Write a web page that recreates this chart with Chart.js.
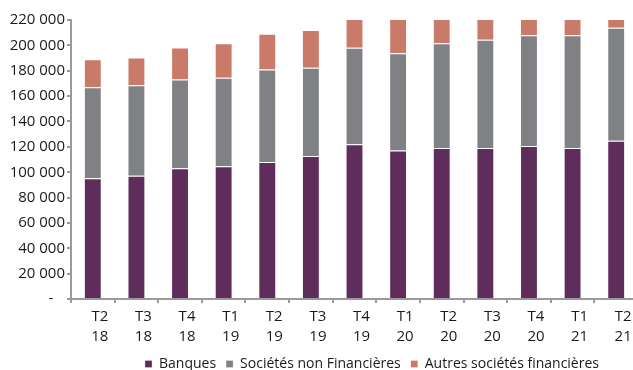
<!DOCTYPE html>
<html>
<head>
<meta charset="utf-8">
<script src="https://cdn.jsdelivr.net/npm/chart.js@4"></script>
<style>
    html, body { margin:0; padding:0; background:#fff; overflow:hidden; }
    #wrap { width:638px; height:370px; position:relative; }
</style>
</head>
<body>
<div id="wrap"><canvas id="graf"></canvas></div>
<script>
    // ---------------- Dados ----------------
    const trimestres = [['T2','18'],['T3','18'],['T4','18'],['T1','19'],['T2','19'],['T3','19'],['T4','19'],
                        ['T1','20'],['T2','20'],['T3','20'],['T4','20'],['T1','21'],['T2','21']];
    const banques = [95300, 97200, 103200, 104800, 108000, 112700, 122000, 117200, 119100, 119100, 120600, 119100, 124900];
    const societesNonFin = [71700, 71400, 69900, 69600, 73000, 69600, 76100, 76500, 82500, 85300, 87300, 88800, 89000];
    const autresFin = [22000, 21900, 25300, 27200, 28200, 29800, 26000, 30000, 22000, 20000, 17000, 18000, 15000];
    const ticksY = [0, 20000, 40000, 60000, 80000, 100000, 120000, 140000, 160000, 180000, 200000, 220000];

    const fonte = "'Open Sans', sans-serif";
    const corTexto = '#1a1a1a';
    const corEixo = '#9a9a9e';

    function formatMilhar(v) {
        if (v === 0) return '-   ';
        return String(v).replace(/\B(?=(\d{3})+(?!\d))/g, ' ');
    }

    // desloca a legenda (direita / baixo), como no original
    const legendaDesloc = {
        id: 'legendaDesloc',
        afterLayout(chart) {
            const lg = chart.legend;
            if (lg) {
                const dy = 370 - 4 - (lg.top + lg.options.labels.padding + 9);
                lg.left += 53; lg.right += 53;
                lg.top += dy;
                lg.bottom = chart.height;
                lg.height = lg.bottom - lg.top;
            }
        }
    };

    new Chart(document.getElementById('graf'), {
        type: 'bar',
        data: {
            labels: trimestres,
            datasets: [
                { label: 'Banques', data: banques, backgroundColor: '#5f2d5c', borderColor: 'rgba(255,255,255,0.25)', borderWidth: 1 },
                { label: 'Sociétés non Financières', data: societesNonFin, backgroundColor: '#808185', borderColor: 'rgba(255,255,255,0.25)', borderWidth: 1 },
                { label: 'Autres sociétés financières', data: autresFin, backgroundColor: '#c97a68', borderColor: 'rgba(255,255,255,0.25)', borderWidth: 1 }
            ]
        },
        options: {
            responsive: true,
            maintainAspectRatio: false,
            animation: false,
            categoryPercentage: 1,
            barPercentage: 0.41,
            layout: { padding: { top: 20, left: 0, right: 0, bottom: 0 } },
            scales: {
                x: {
                    stacked: true,
                    grid: { drawOnChartArea: false, drawTicks: true, tickLength: 4, color: corEixo, lineWidth: 2, offset: true },
                    border: { color: corEixo, width: 2 },
                    ticks: { color: corTexto, font: { family: fonte, size: 15, lineHeight: 1.33 }, padding: 4, labelOffset: 7, maxRotation: 0, autoSkip: false }
                },
                y: {
                    stacked: true,
                    min: 0,
                    max: 220000,
                    afterBuildTicks: (axis) => { axis.ticks = ticksY.map(v => ({ value: v })); },
                    afterFit: (axis) => { axis.width = 71; },
                    grid: { drawOnChartArea: false, drawTicks: true, tickLength: 4, color: corEixo, lineWidth: 2 },
                    border: { color: corEixo, width: 2 },
                    ticks: { color: corTexto, font: { family: fonte, size: 15 }, padding: 2, callback: (v) => formatMilhar(v) }
                }
            },
            plugins: {
                legend: {
                    position: 'bottom',
                    maxHeight: 19,
                    labels: { color: corTexto, font: { family: fonte, size: 14 }, boxWidth: 7, boxHeight: 7, padding: 10 }
                },
                tooltip: { enabled: false }
            }
        },
        plugins: [legendaDesloc]
    });
</script>
</body>
</html>
